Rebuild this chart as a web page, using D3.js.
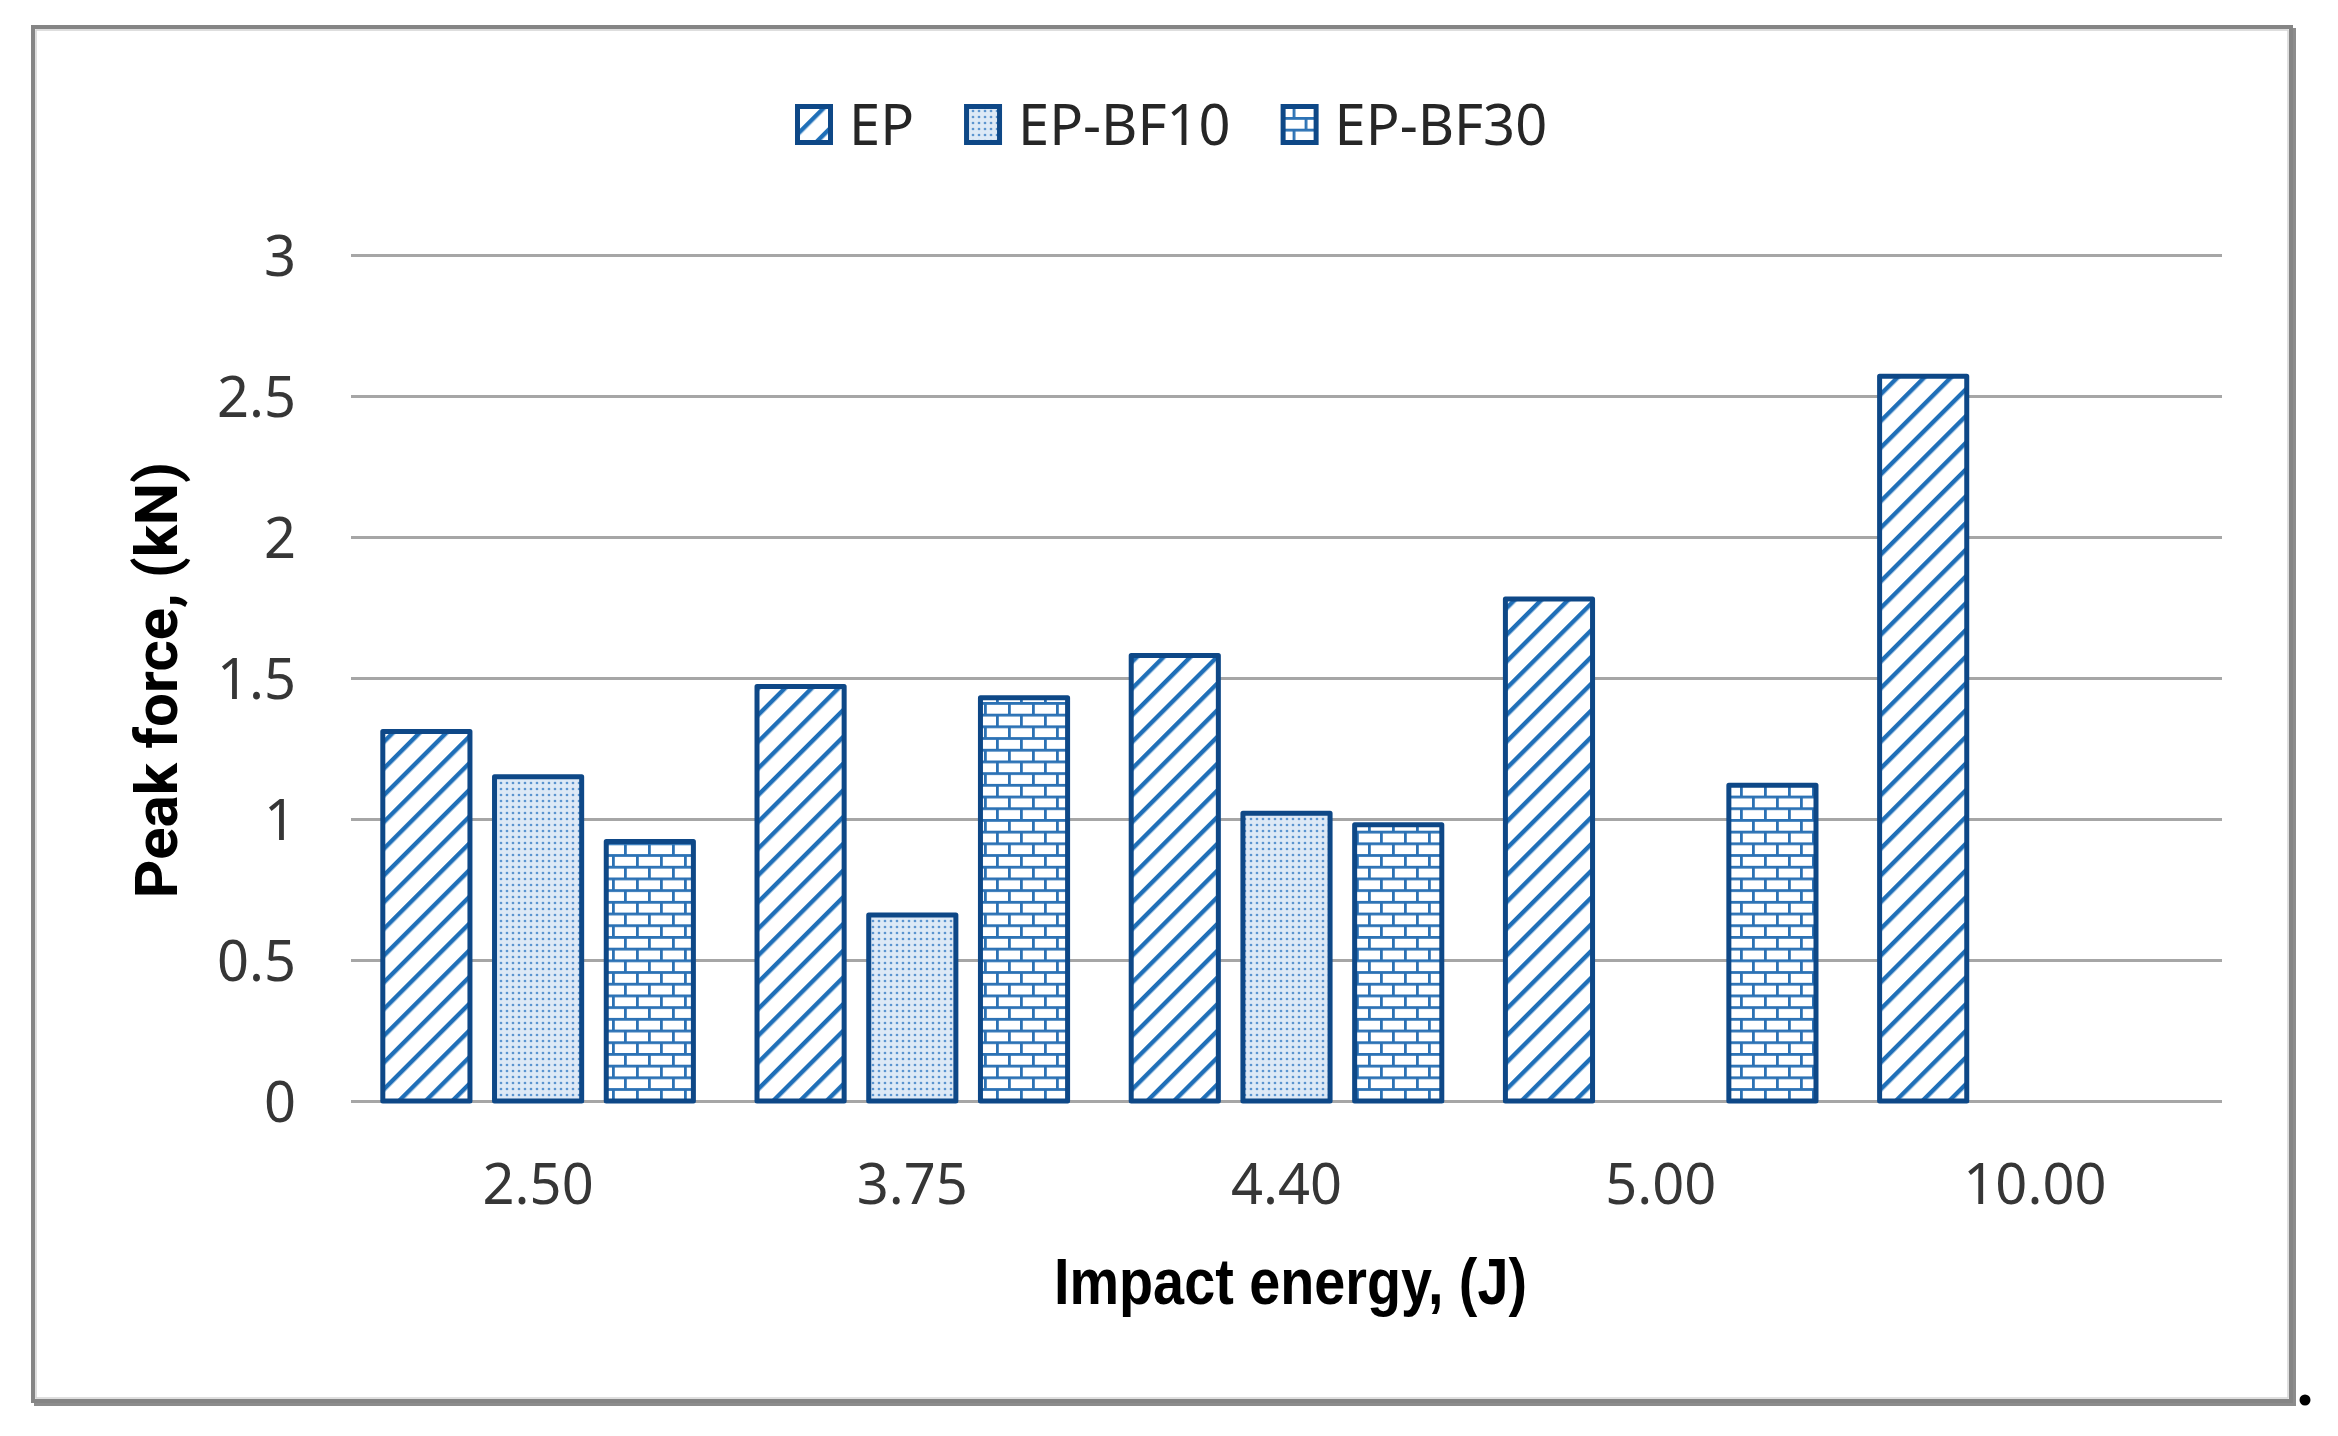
<!DOCTYPE html>
<html>
<head>
<meta charset="utf-8">
<script src="https://cdn.jsdelivr.net/npm/d3@7"></script>
<style>
  body { margin: 0; background: #fff; }
  svg { display: block; }
</style>
</head>
<body>
<svg id="chart" width="2338" height="1436"></svg>
<script>
// data
const categories = ["2.50", "3.75", "4.40", "5.00", "10.00"];
const seriesNames = ["EP", "EP-BF10", "EP-BF30"];
const epValues = [1.31, 1.47, 1.58, 1.78, 2.57];
const bf10Values = [1.15, 0.66, 1.02, null, null];
const bf30Values = [0.92, 1.43, 0.98, 1.12, null];
const yTicks = [0, 0.5, 1, 1.5, 2, 2.5, 3];

const seriesValues = [epValues, bf10Values, bf30Values];
const patternIds = ["pat-ep", "pat-bf10", "pat-bf30"];

const plot = { left: 351, right: 2222, top: 255, bottom: 1101 };

const tickFont = "'Noto Sans', 'Open Sans', sans-serif";
const edge = "#0e4887";
const mid = "#1f6fb8";

const svg = d3.select("#chart");
const defs = svg.append("defs");

// fill patterns
const pEp = defs.append("pattern")
    .attr("id", "pat-ep")
    .attr("patternUnits", "userSpaceOnUse")
    .attr("width", 18.9)
    .attr("height", 20)
    .attr("patternTransform", "rotate(45)");
pEp.append("rect").attr("width", 18.9).attr("height", 20).attr("fill", "#fff");
pEp.append("rect").attr("width", 4.4).attr("height", 20).attr("fill", mid);

const pBf10 = defs.append("pattern")
    .attr("id", "pat-bf10")
    .attr("patternUnits", "userSpaceOnUse")
    .attr("width", 6)
    .attr("height", 6);
pBf10.append("rect").attr("width", 6).attr("height", 6).attr("fill", "#dde9f6");
pBf10.append("circle").attr("cx", 3).attr("cy", 3).attr("r", 1.35).attr("fill", "#5b94cf");

const pBf30 = defs.append("pattern")
    .attr("id", "pat-bf30")
    .attr("patternUnits", "userSpaceOnUse")
    .attr("width", 24)
    .attr("height", 23.4);
pBf30.append("rect").attr("width", 24).attr("height", 23.4).attr("fill", "#fff");
[[0, 0, 24, 2.8], [0, 11.7, 24, 2.8], [0, 0, 2.8, 11.7], [12, 11.7, 2.8, 11.7]].forEach(r => {
    pBf30.append("rect")
        .attr("x", r[0]).attr("y", r[1])
        .attr("width", r[2]).attr("height", r[3])
        .attr("fill", "#2c72b5");
});

// frame with a little shadow on the right / bottom
svg.append("rect")
    .attr("x", 36).attr("y", 30)
    .attr("width", 2258).attr("height", 1374)
    .attr("fill", "none")
    .attr("stroke", "#8c8c8c")
    .attr("stroke-width", 4);
svg.append("rect")
    .attr("x", 33).attr("y", 27)
    .attr("width", 2258).attr("height", 1374)
    .attr("fill", "#fff")
    .attr("stroke", "#858585")
    .attr("stroke-width", 4);
svg.append("rect")
    .attr("x", 36).attr("y", 30)
    .attr("width", 2252).attr("height", 1368)
    .attr("fill", "none")
    .attr("stroke", "#d4d4d4")
    .attr("stroke-width", 1.5);

svg.append("circle")
    .attr("cx", 2305).attr("cy", 1400).attr("r", 5.5)
    .attr("fill", "#000");

// scales
const x0 = d3.scaleBand()
    .domain(categories)
    .range([plot.left, plot.right])
    .paddingInner(0.17)
    .paddingOuter(0.085);

const x1 = d3.scaleBand()
    .domain(seriesNames)
    .range([0, x0.bandwidth()])
    .paddingInner(0.22);

const y = d3.scaleLinear()
    .domain([0, 3])
    .range([plot.bottom, plot.top]);

// y axis + gridlines
const yAxis = svg.append("g")
    .attr("transform", `translate(${plot.left},0)`)
    .call(d3.axisLeft(y)
        .tickValues(yTicks)
        .tickFormat(d => String(d))
        .tickSizeInner(-(plot.right - plot.left))
        .tickSizeOuter(0)
        .tickPadding(55));
yAxis.select(".domain").remove();
yAxis.selectAll(".tick line")
    .attr("stroke", "#a6a6a6")
    .attr("stroke-width", 3);
yAxis.selectAll(".tick text")
    .attr("dy", "0.36em")
    .attr("fill", "#363636")
    .style("font-family", tickFont)
    .style("font-size", "56px");

// x axis
const xAxis = svg.append("g")
    .attr("transform", `translate(0,${plot.bottom})`)
    .call(d3.axisBottom(x0).tickSize(0).tickPadding(63));
xAxis.select(".domain").remove();
xAxis.selectAll(".tick text")
    .attr("fill", "#363636")
    .style("font-family", tickFont)
    .style("font-size", "56px");

// bars
const barData = [];
categories.forEach((c, i) => {
    seriesNames.forEach((s, j) => {
        const v = seriesValues[j][i];
        if (v != null) barData.push({ cat: c, series: s, idx: j, value: v });
    });
});

svg.append("g")
    .selectAll("rect")
    .data(barData)
    .join("rect")
    .attr("x", d => x0(d.cat) + x1(d.series))
    .attr("y", d => y(d.value))
    .attr("width", x1.bandwidth())
    .attr("height", d => y(0) - y(d.value))
    .attr("fill", d => `url(#${patternIds[d.idx]})`)
    .attr("stroke", edge)
    .attr("stroke-width", 5)
    .attr("stroke-linejoin", "round");

// axis titles
svg.append("text")
    .attr("x", (plot.left + plot.right) / 2 + 4)
    .attr("y", 1304)
    .attr("text-anchor", "middle")
    .attr("textLength", 473)
    .attr("lengthAdjust", "spacingAndGlyphs")
    .style("font-family", "'Liberation Sans Narrow', 'Liberation Sans', sans-serif")
    .style("font-weight", "bold")
    .style("font-size", "64px")
    .attr("fill", "#000")
    .text("Impact energy, (J)");

svg.append("text")
    .attr("transform", `translate(177,${(plot.top + plot.bottom) / 2 + 2}) rotate(-90)`)
    .attr("text-anchor", "middle")
    .style("font-family", "Roboto, sans-serif")
    .style("font-weight", "bold")
    .style("font-size", "60px")
    .attr("fill", "#000")
    .text("Peak force, (kN)");

// legend
const legend = svg.append("g").attr("transform", "translate(795,0)");
let lx = 0;
seriesNames.forEach((s, j) => {
    const item = legend.append("g").attr("transform", `translate(${lx},0)`);
    item.append("rect")
        .attr("x", 2.5).attr("y", 106.5)
        .attr("width", 33).attr("height", 36)
        .attr("fill", `url(#${patternIds[j]})`)
        .attr("stroke", edge)
        .attr("stroke-width", 5);
    const t = item.append("text")
        .attr("x", 54)
        .attr("y", 145)
        .attr("fill", "#262626")
        .style("font-family", tickFont)
        .style("font-size", "56px")
        .text(s);
    lx += 54 + t.node().getComputedTextLength() + 50;
});
</script>
</body>
</html>
